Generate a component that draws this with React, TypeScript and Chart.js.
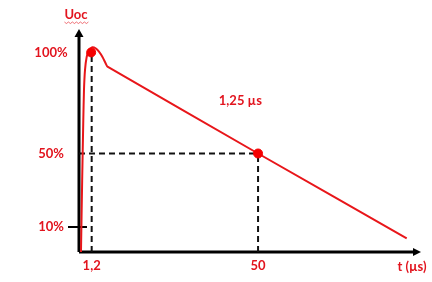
import React, { useEffect, useRef } from "react";
import { Chart, registerables } from "chart.js";

Chart.register(...registerables);

// ---- data (diagram units: x in µs-like units, y in % of peak) ----
const curveX = [-1.94, -1.59, -1.26, -1.06, -0.76, -0.27, 0.41, 1.38, 2.46, 3.34, 4.37, 5.31, 5.83, 50, 93.6];
const curveY = [-3.6, 35.4, 68.1, 84.5, 95.4, 102.5, 106.3, 107.8, 107.1, 105.4, 102.5, 99.0, 97.3, 50, 3.8];

const markerX = [1.05, 50];
const markerY = [105, 50];

const xTickValues = [1.2, 50];
const xTickLabels = ["1,2", "50"];
const yTickValues = [105, 50, 10];
const yTickLabels = ["100%", "50%", "10%"];

const tickMarkX = [-5.75, -0.18];
const tickMarkY = [10, 10];

const annotationText = "1,25 µs";
const annotationX = 44.8;
const annotationY = 78.5;

const yAxisTitle = "Uoc";
const xAxisTitle = "t (µs)";

const X_MIN = -2.52;
const X_MAX = 97.5;
const Y_MIN = -3.6;
const Y_MAX = 117.2;

const RED = "rgb(232,22,26)";
const TEXT_RED = "rgb(226,20,30)";
const FONT = "bold 13px Lato, 'Open Sans', sans-serif";

const zip = (xs: number[], ys: number[]) => xs.map((x, i) => ({ x, y: ys[i] }));

const diagramPlugin = {
  id: "diagram",
  beforeDatasetsDraw(chart: any) {
    const { ctx, chartArea } = chart;
    const { left, right, top, bottom } = chartArea;
    ctx.save();
    ctx.strokeStyle = "#000";
    ctx.fillStyle = "#000";
    ctx.lineWidth = 3;
    ctx.beginPath();
    ctx.moveTo(left, bottom);
    ctx.lineTo(left, top + 5);
    ctx.moveTo(left, bottom);
    ctx.lineTo(right - 5, bottom);
    ctx.stroke();
    // arrow heads
    ctx.beginPath();
    ctx.moveTo(left, top - 1);
    ctx.lineTo(left - 4.5, top + 7);
    ctx.lineTo(left + 4.5, top + 7);
    ctx.closePath();
    ctx.fill();
    ctx.beginPath();
    ctx.moveTo(right + 1, bottom);
    ctx.lineTo(right - 7, bottom - 4);
    ctx.lineTo(right - 7, bottom + 4);
    ctx.closePath();
    ctx.fill();
    ctx.restore();
  },
  afterDatasetsDraw(chart: any) {
    const { ctx, chartArea, scales } = chart;
    const { left, right, bottom, top } = chartArea;
    const xs = scales.x;
    const ys = scales.y;
    ctx.save();
    ctx.fillStyle = TEXT_RED;
    ctx.font = FONT;
    ctx.textBaseline = "middle";
    ctx.textAlign = "center";
    yTickValues.forEach((v, i) => {
      ctx.fillText(yTickLabels[i], left - 28, ys.getPixelForValue(v));
    });
    xTickValues.forEach((v, i) => {
      ctx.fillText(xTickLabels[i], xs.getPixelForValue(v), bottom + 14);
    });
    ctx.fillText(annotationText, xs.getPixelForValue(annotationX), ys.getPixelForValue(annotationY));
    ctx.fillText(xAxisTitle, right - 8, bottom + 15);
    const tx = left - 3;
    const ty = top - 15;
    ctx.fillText(yAxisTitle, tx, ty);
    // wavy underline (as in the source image)
    const w = ctx.measureText(yAxisTitle).width;
    ctx.strokeStyle = "rgba(226,20,30,0.6)";
    ctx.lineWidth = 1;
    ctx.beginPath();
    const ux0 = tx - w / 2;
    const uy = ty + 7;
    for (let k = 0; k <= Math.ceil(w / 2); k++) {
      const px = ux0 + k * 2;
      const py = uy + (k % 2 === 0 ? 0 : 1.5);
      if (k === 0) ctx.moveTo(px, py);
      else ctx.lineTo(px, py);
    }
    ctx.stroke();
    ctx.restore();
  },
};

export default function App() {
  const canvasRef = useRef<HTMLCanvasElement | null>(null);

  useEffect(() => {
    document.body.style.margin = "0";
    const canvas = canvasRef.current;
    if (!canvas) return;
    const dashed = {
      borderColor: "#111",
      borderWidth: 2,
      borderDash: [6, 4],
      pointRadius: 0,
      showLine: true,
      fill: false,
      clip: false as any,
    };
    const chart = new Chart(canvas, {
      type: "scatter",
      data: {
        datasets: [
          {
            label: "markers",
            data: zip(markerX, markerY),
            pointRadius: 4.5,
            pointBackgroundColor: "rgb(245,0,0)",
            pointBorderColor: "rgb(245,0,0)",
            showLine: false,
            clip: false as any,
          },
          {
            label: "curve",
            data: zip(curveX, curveY),
            borderColor: RED,
            borderWidth: 2,
            pointRadius: 0,
            showLine: true,
            tension: 0.2,
            fill: false,
          },
          { label: "v1", data: [{ x: xTickValues[0], y: Y_MIN }, { x: xTickValues[0], y: markerY[0] }], ...dashed },
          { label: "v2", data: [{ x: xTickValues[1], y: Y_MIN }, { x: xTickValues[1], y: markerY[1] }], ...dashed },
          { label: "h", data: [{ x: X_MIN, y: yTickValues[1] }, { x: markerX[1], y: yTickValues[1] }], ...dashed },
          {
            label: "tick",
            data: zip(tickMarkX, tickMarkY),
            borderColor: "#000",
            borderWidth: 2,
            pointRadius: 0,
            showLine: true,
            clip: false as any,
          },
        ],
      },
      options: {
        animation: false,
        responsive: false,
        devicePixelRatio: 1,
        layout: { padding: { left: 79, right: 12, top: 30, bottom: 30 } },
        plugins: { legend: { display: false }, tooltip: { enabled: false } },
        scales: {
          x: { type: "linear", min: X_MIN, max: X_MAX, display: false },
          y: { type: "linear", min: Y_MIN, max: Y_MAX, display: false },
        },
      },
      plugins: [diagramPlugin],
    });
    return () => chart.destroy();
  }, []);

  return (
    <div style={{ width: 432, height: 282, background: "#fff" }}>
      <canvas ref={canvasRef} width={432} height={282} />
    </div>
  );
}
